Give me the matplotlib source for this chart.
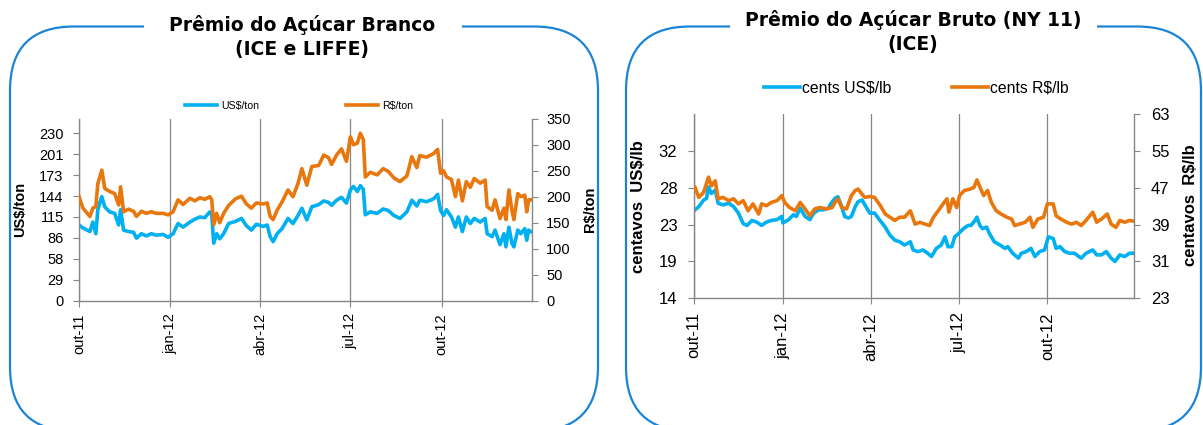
import matplotlib
matplotlib.use("Agg")
import matplotlib.pyplot as plt
import pandas as pd
from matplotlib.patches import FancyBboxPatch, Rectangle
from matplotlib.transforms import IdentityTransform
from matplotlib.ticker import FixedLocator, FixedFormatter
from matplotlib.legend import Legend
import matplotlib.dates as mdates

plt.rcParams['font.family'] = ['Liberation Sans', 'DejaVu Sans']

# ---------------- DATA ----------------
ORIGEM = "2011-10-01"   # day offsets below count from this date

# Panel 1: Prêmio do Açúcar Branco (ICE e LIFFE)
dias_branco = [0, 4, 11, 14, 17, 19, 23, 26, 31, 36, 40, 42, 45, 50, 55, 58, 63, 68, 73, 78,
               85, 90, 95, 100, 105, 112, 117, 122, 127, 132, 134, 136, 139, 142, 146, 151, 158, 164, 169, 174,
               179, 186, 190, 193, 196, 200, 205, 211, 216, 221, 225, 230, 235, 242, 247, 252, 255, 260, 265, 270,
               274, 277, 281, 284, 287, 289, 294, 301, 307, 312, 318, 324, 331, 336, 341, 344, 351, 358, 362, 365,
               368, 371, 376, 380, 383, 387, 391, 395, 399, 405, 410, 412, 417, 420, 425, 429, 431, 434, 437, 439,
               443, 446, 450, 452, 454, 456]
usd_ton = [104, 100, 95, 108, 92, 125, 143, 129, 122, 120, 104, 125, 97, 95, 94, 86, 92, 89, 92, 90,
           91, 87, 92, 106, 101, 108, 112, 115, 114, 122, 118, 79, 92, 85, 92, 106, 109, 113, 103, 97,
           105, 102, 104, 88, 81, 92, 99, 113, 106, 117, 127, 111, 129, 132, 137, 135, 131, 138, 142, 134,
           152, 157, 150, 158, 153, 118, 122, 120, 126, 124, 117, 113, 122, 138, 130, 138, 136, 140, 146, 124,
           117, 125, 115, 101, 115, 95, 115, 106, 113, 108, 113, 92, 88, 97, 77, 92, 74, 101, 79, 74,
           97, 92, 99, 83, 97, 95]
brl_ton = [200, 178, 162, 178, 181, 225, 251, 216, 210, 206, 184, 219, 171, 176, 172, 162, 172, 168, 171, 168,
           168, 165, 171, 194, 185, 197, 192, 198, 195, 200, 194, 146, 168, 150, 168, 183, 196, 201, 186, 178,
           188, 186, 188, 162, 156, 174, 190, 213, 200, 225, 254, 222, 258, 260, 280, 275, 262, 280, 292, 268,
           315, 300, 303, 322, 310, 238, 247, 242, 254, 249, 236, 229, 240, 277, 256, 279, 276, 283, 291, 245,
           250, 238, 233, 200, 232, 192, 229, 218, 235, 226, 232, 181, 174, 194, 158, 178, 156, 213, 174, 156,
           206, 200, 203, 171, 194, 194]

# Panel 2: Prêmio do Açúcar Bruto (NY 11) (ICE)
dias_usd_lb = [1, 5, 10, 13, 15, 18, 22, 25, 30, 36, 41, 46, 51, 55, 60, 65, 70, 75, 80, 86,
               91, 92, 98, 103, 106, 110, 115, 120, 124, 129, 134, 139, 142, 146, 149, 153, 156, 160, 163, 167,
               170, 174, 177, 182, 187, 192, 198, 203, 208, 213, 218, 224, 227, 232, 237, 242, 246, 251, 256, 260,
               263, 267, 270, 274, 279, 284, 287, 291, 293, 296, 299, 303, 306, 311, 317, 322, 325, 330, 336, 339,
               344, 349, 353, 358, 363, 367, 372, 375, 379, 384, 389, 394, 401, 406, 413, 417, 422, 427, 432, 436,
               441, 446, 451, 456]
cents_usd_lb = [24.8, 25.2, 26.0, 26.2, 27.6, 26.8, 27.2, 25.6, 25.4, 25.6, 25.2, 24.4, 23.1, 22.9, 23.5, 23.3, 22.9, 23.3, 23.5, 23.6,
                24.0, 23.2, 23.6, 24.2, 24.0, 25.0, 24.0, 23.6, 24.4, 24.8, 24.8, 25.0, 25.6, 26.2, 26.4, 25.2, 24.0, 23.8, 24.0, 25.2,
                25.8, 26.0, 25.4, 24.4, 24.4, 23.6, 22.7, 21.7, 21.1, 20.9, 20.5, 20.9, 19.9, 19.7, 19.9, 19.5, 19.1, 20.1, 20.5, 21.5,
                20.3, 20.3, 21.5, 21.9, 22.5, 22.9, 22.9, 23.5, 23.9, 22.9, 22.5, 22.7, 21.9, 20.9, 20.5, 20.1, 20.3, 19.5, 18.9, 19.5,
                19.7, 20.1, 19.1, 19.7, 19.9, 21.5, 21.3, 20.1, 20.3, 19.7, 19.5, 19.5, 18.9, 19.5, 19.9, 19.3, 19.3, 19.7, 18.9, 18.5,
                19.3, 19.1, 19.5, 19.5]
dias_brl_lb = [1, 5, 10, 15, 18, 22, 25, 30, 36, 41, 46, 51, 56, 61, 67, 70, 75, 80, 86, 91,
               94, 99, 105, 110, 115, 120, 125, 130, 137, 143, 146, 149, 153, 158, 163, 167, 170, 174, 177, 182,
               187, 193, 198, 203, 208, 213, 218, 224, 229, 234, 239, 244, 248, 253, 258, 262, 264, 268, 272, 275,
               280, 286, 290, 293, 297, 300, 304, 308, 313, 318, 324, 329, 332, 337, 343, 348, 351, 356, 362, 366,
               372, 375, 380, 386, 391, 396, 401, 406, 413, 417, 422, 428, 432, 437, 441, 446, 451, 456]
cents_brl_lb = [47.1, 44.9, 46.0, 49.3, 47.4, 48.5, 44.6, 44.9, 44.2, 44.6, 43.5, 44.2, 42.0, 43.5, 41.3, 43.5, 43.1, 43.8, 44.2, 45.3,
                43.8, 42.7, 42.0, 43.8, 42.4, 40.9, 42.4, 42.7, 42.4, 42.7, 43.8, 44.6, 42.7, 42.4, 45.3, 46.4, 46.7, 45.6, 44.9, 45.1,
                44.9, 43.1, 41.3, 40.6, 39.9, 40.6, 40.6, 42.0, 39.1, 39.5, 39.1, 38.8, 40.6, 42.0, 43.5, 44.6, 41.7, 44.6, 42.7, 45.3,
                46.4, 46.7, 47.1, 48.7, 46.7, 45.3, 46.4, 43.8, 42.0, 41.3, 40.6, 40.2, 38.8, 39.1, 39.5, 40.6, 38.4, 40.2, 40.6, 43.5,
                43.5, 40.9, 40.2, 39.5, 39.1, 39.5, 38.8, 39.9, 41.7, 39.5, 40.2, 41.3, 39.1, 38.4, 39.9, 39.5, 39.9, 39.7]

marcas_x = ["2011-10-01", "2012-01-01", "2012-04-01", "2012-07-01", "2012-10-01"]
rotulos_x = ["out-11", "jan-12", "abr-12", "jul-12", "out-12"]

ticks_usd_ton = [0, 28.75, 57.5, 86.25, 115, 143.75, 172.5, 201.25, 230]
rotulos_usd_ton = ["0", "29", "58", "86", "115", "144", "173", "201", "230"]
ticks_brl_ton = [0, 50, 100, 150, 200, 250, 300, 350]

ticks_usd_lb = [14, 18.5, 23, 27.5, 32]
rotulos_usd_lb = ["14", "19", "23", "28", "32"]
ticks_brl_lb = [23, 31, 39, 47, 55, 63]

# ---------------- STYLE ----------------
AZUL = "#00B0F0"
LARANJA = "#E8770E"
CINZA = "#868686"
MOLDURA = "#1A84D6"
LW = 2.6
W, H = 1203, 425

fig = plt.figure(figsize=(W / 100, H / 100), dpi=100)
fig.patch.set_facecolor("white")


def to_dates(days):
    return pd.Timestamp(ORIGEM) + pd.to_timedelta(days, unit="D")


def ax_rect(x0, x1, ytop, ybot):
    return [x0 / W, (H - ybot) / H, (x1 - x0) / W, (ybot - ytop) / H]


def style_axes(ax, ax2, fs, ypad_l, ypad_r, xpad):
    for a in (ax, ax2):
        a.set_facecolor("none")
        for s in a.spines.values():
            s.set_color(CINZA)
            s.set_linewidth(1.0)
        a.spines["top"].set_visible(False)
    ax.spines["right"].set_visible(False)
    ax2.spines["left"].set_visible(False)
    ax2.spines["bottom"].set_visible(False)
    ax.tick_params(axis="y", direction="out", length=4, width=0.8, color=CINZA,
                   labelsize=fs, pad=ypad_l, labelcolor="black")
    ax2.tick_params(axis="y", direction="out", length=4, width=0.8, color=CINZA,
                    labelsize=fs, pad=ypad_r, labelcolor="black")
    ax.tick_params(axis="x", direction="out", length=4, width=0.8, color=CINZA,
                   labelsize=fs, pad=xpad, labelcolor="black", labelrotation=90)
    ax.xaxis.set_major_locator(FixedLocator(mdates.date2num(pd.to_datetime(marcas_x))))
    ax.xaxis.set_major_formatter(FixedFormatter(rotulos_x))
    ax.grid(axis="x", color=CINZA, linewidth=0.9)
    ax.grid(axis="y", visible=False)
    ax2.grid(False)


# ---------- Panel 1 ----------
ax1 = fig.add_axes(ax_rect(79, 531.7, 118.7, 300.7))
ax1b = ax1.twinx()
ax1.plot(to_dates(dias_branco), usd_ton, color=AZUL, lw=LW, solid_joinstyle="round")
ax1b.plot(to_dates(dias_branco), brl_ton, color=LARANJA, lw=LW, solid_joinstyle="round")
ax1.set_xlim(pd.Timestamp("2011-10-01"), pd.Timestamp("2012-12-31"))
ax1.set_ylim(0, 250)
ax1b.set_ylim(0, 350)
ax1.yaxis.set_major_locator(FixedLocator(ticks_usd_ton))
ax1.yaxis.set_major_formatter(FixedFormatter(rotulos_usd_ton))
ax1b.yaxis.set_major_locator(FixedLocator(ticks_brl_ton))
style_axes(ax1, ax1b, 10.5, 7, 6.5, 5)
ax1.set_ylabel("US$/ton", fontsize=10.5, fontweight="bold")
ax1.yaxis.set_label_coords(-0.114, 0.5)
ax1b.set_ylabel("R$/ton", fontsize=10.5, fontweight="bold")
ax1b.yaxis.set_label_coords(1.113, 0.5)

# ---------- Panel 2 ----------
ax2 = fig.add_axes(ax_rect(694, 1134.3, 114, 298.3))
ax2b = ax2.twinx()
ax2.plot(to_dates(dias_usd_lb), cents_usd_lb, color=AZUL, lw=LW, solid_joinstyle="round")
ax2b.plot(to_dates(dias_brl_lb), cents_brl_lb, color=LARANJA, lw=LW, solid_joinstyle="round")
ax2.set_xlim(pd.Timestamp("2011-10-01"), pd.Timestamp("2012-12-30"))
ax2.set_ylim(14, 36.5)
ax2b.set_ylim(23, 63)
ax2.yaxis.set_major_locator(FixedLocator(ticks_usd_lb))
ax2.yaxis.set_major_formatter(FixedFormatter(rotulos_usd_lb))
ax2b.yaxis.set_major_locator(FixedLocator(ticks_brl_lb))
style_axes(ax2, ax2b, 12, 8, 8, 6)
ax2.set_ylabel("centavos  US$/lb", fontsize=12, fontweight="bold")
ax2.yaxis.set_label_coords(-0.109, 0.5)
ax2b.set_ylabel("centavos  R$/lb", fontsize=12, fontweight="bold")
ax2b.yaxis.set_label_coords(1.1115, 0.503)

# ---------- Legends ----------
def legenda(ax, line, label, x_px, y_px, fs, hl, tp):
    leg = Legend(ax, [line], [label], loc="center left",
                 bbox_to_anchor=(x_px / W, (H - y_px) / H),
                 bbox_transform=fig.transFigure, frameon=False,
                 fontsize=fs, handlelength=hl, handletextpad=tp,
                 borderpad=0, borderaxespad=0)
    ax.add_artist(leg)

legenda(ax1b, ax1.lines[0], "US$/ton", 185, 106, 7.6, 3.0, 0.4)
legenda(ax1b, ax1b.lines[0], "R$/ton", 346, 106, 7.6, 3.0, 0.4)
legenda(ax2b, ax2.lines[0], "cents US$/lb", 764, 88, 11.3, 2.3, 0.15)
legenda(ax2b, ax2b.lines[0], "cents R$/lb", 952, 88, 11.3, 2.3, 0.15)

# ---------- Rounded frames with titles ----------
ident = IdentityTransform()
for (x0, x1, gap0, gap1) in [(10, 598, 143.5, 461.7), (626, 1201, 730, 1097)]:
    fig.add_artist(FancyBboxPatch((x0, H - 431), x1 - x0, 431 - 26.5,
                                  boxstyle="round,pad=0,rounding_size=64",
                                  transform=ident, fill=False,
                                  edgecolor=MOLDURA, linewidth=1.6, zorder=0))
    fig.add_artist(Rectangle((gap0, H - 26.5 - 4), gap1 - gap0, 8, transform=ident,
                             facecolor="white", edgecolor="none", zorder=1))

fig.text(302 / W, 1 - 37 / H, "Prêmio do Açúcar Branco\n(ICE e LIFFE)", ha="center", va="center",
         fontsize=13.5, fontweight="bold", family="DejaVu Sans", linespacing=1.3, zorder=3)
fig.text(913 / W, 1 - 32 / H, "Prêmio do Açúcar Bruto (NY 11)\n(ICE)", ha="center", va="center",
         fontsize=13.5, fontweight="bold", family="DejaVu Sans", linespacing=1.35, zorder=3)

fig.savefig("out.png", dpi=100, facecolor="white")
